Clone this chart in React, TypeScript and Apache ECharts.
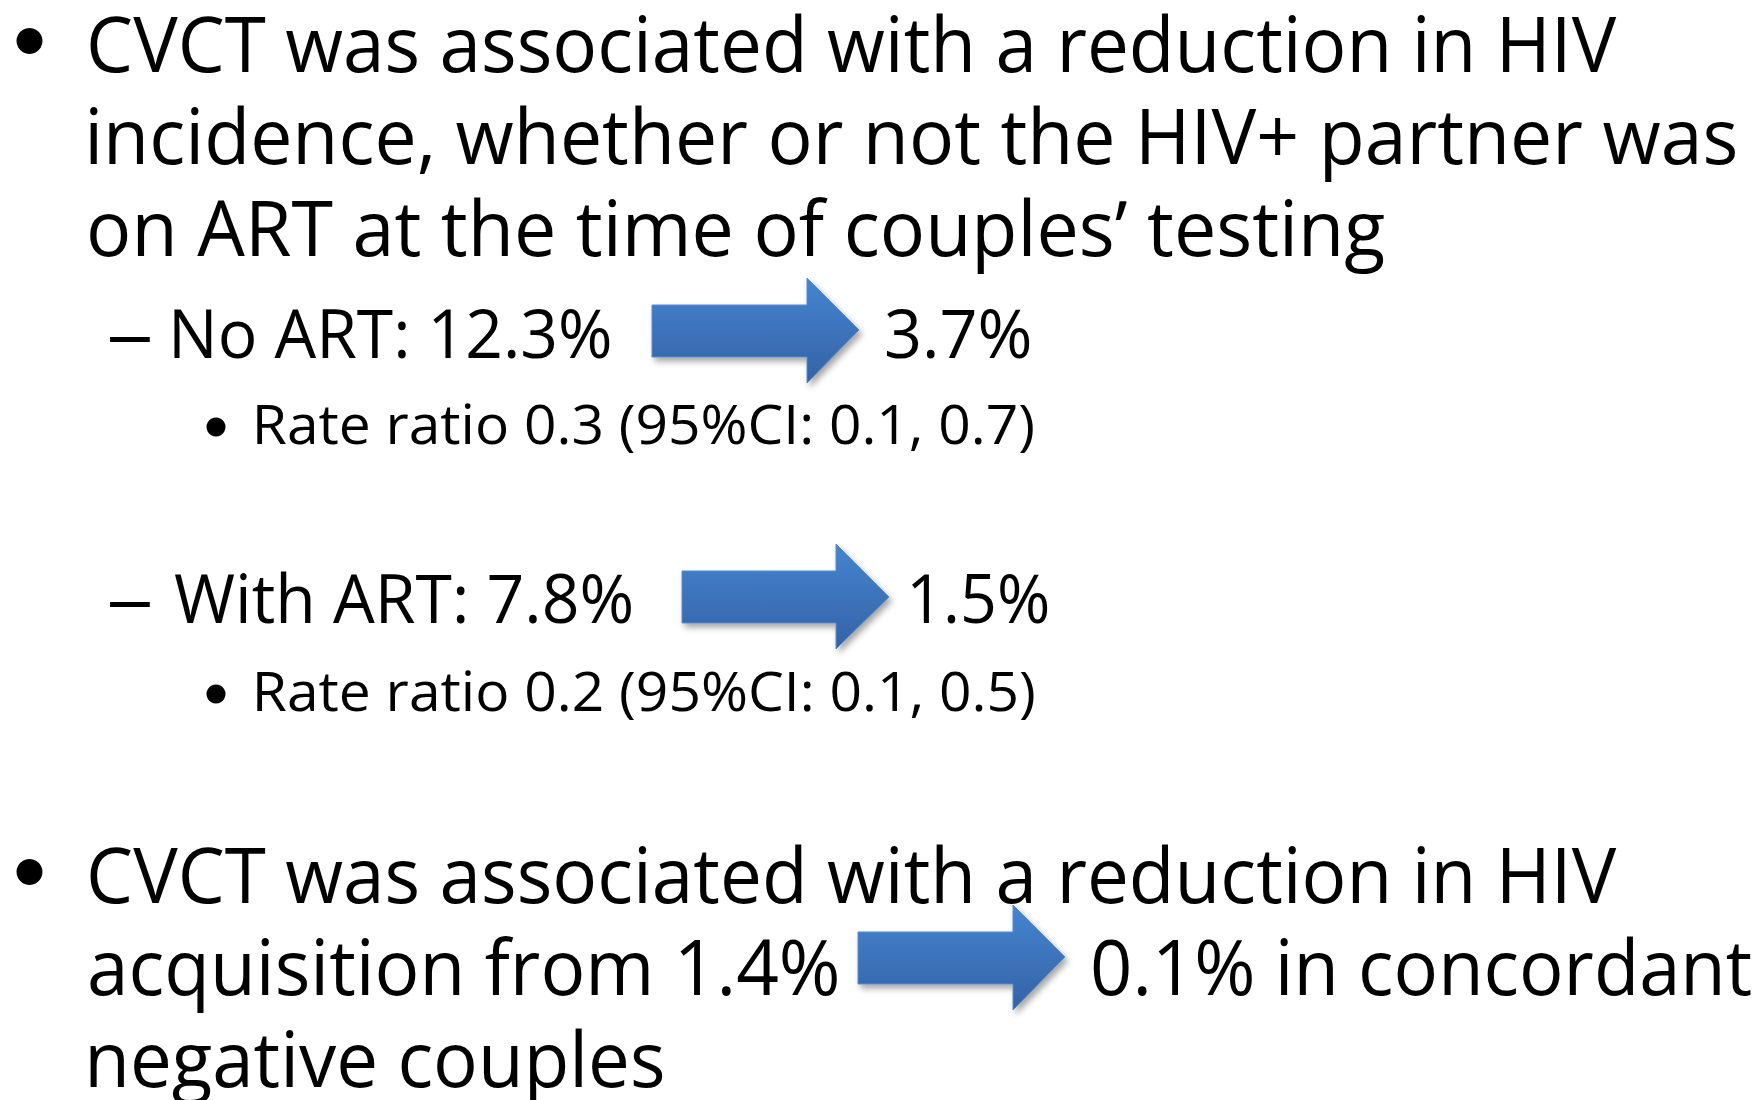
import React, { useEffect, useRef } from "react";
import * as echarts from "echarts";

// ---- content (text of the slide) ----
const bullet1Lines = [
  "CVCT was associated with a reduction in HIV",
  "incidence, whether or not the HIV+ partner was",
  "on ART at the time of couples’ testing",
];
const subItems = ["No ART: 12.3%", "With ART: 7.8%"];
const subResults = ["3.7%", "1.5%"];
const rateRatios = [
  "Rate ratio 0.3 (95%CI: 0.1, 0.7)",
  "Rate ratio 0.2 (95%CI: 0.1, 0.5)",
];
const bullet2Lines = [
  "CVCT was associated with a reduction in HIV",
  "acquisition from 1.4%",
  "negative couples",
];
const bullet2Result = "0.1% in concordant";

// ---- layout ----
const W = 1761;
const H = 1100;
const FONT_FAMILY = '"Open Sans", "Noto Sans", sans-serif';
const SIZE1 = 77;
const SIZE2 = 67;
const SIZE3 = 55;
const K_CENTRAL = 0.388;

const L1_LEFT = 90;
const L1_RIGHTS = [1617, 1735, 1384];
const L1_BASE = [72, 164, 256];
const SUB_BASE = [358, 623];
const SUB_LEFT = 174;
const SUB_RIGHTS = [610, 632];
const RES_LEFTS = [887, 912];
const RES_RIGHTS = [1030, 1048];
const DASH = [109, 150];
const RATE_BASE = [444, 711];
const RATE_LEFT = 257;
const RATE_RIGHTS = [1034, 1035];
const RATE_BULLET = { x: 216, dy: -17, r: 9.5 };
const B2_BASE = [903, 995, 1087];
const B2_RIGHTS = [1617, 837, 663];
const B2_RES = [1093, 1751];
const MAIN_BULLET = { x: 29.5, dy: -31, r: 13 };

// arrows: [shaftLeft, shaftTop, shaftBottom, headX, headTop, headBottom, tipX, tipY]
const ARROWS = [
  [652, 305, 357, 807, 278, 383, 859, 330],
  [682, 571, 623, 836, 544, 649, 889, 597],
  [858, 932, 984, 1013, 905, 1010, 1065, 957],
];

let ctx: CanvasRenderingContext2D | null = null;
function measure(text: string, fs: number) {
  if (!ctx) ctx = document.createElement("canvas").getContext("2d");
  ctx!.font = `${fs}px ${FONT_FAMILY}`;
  const m = ctx!.measureText(text);
  return { l: m.actualBoundingBoxLeft, r: m.actualBoundingBoxRight };
}

function fitText(text: string, fs: number, left: number, right: number, base: number) {
  const m = measure(text, fs);
  const ink = m.l + m.r;
  const s = (right - left) / ink;
  return {
    type: "text",
    x: left + s * m.l,
    y: base - K_CENTRAL * fs,
    scaleX: s,
    silent: true,
    style: {
      text,
      x: 0,
      y: 0,
      fill: "#000",
      font: `${fs}px ${FONT_FAMILY}`,
      align: "left",
      verticalAlign: "middle",
    },
  };
}

function dot(cx: number, cy: number, r: number) {
  return { type: "circle", shape: { cx, cy, r }, style: { fill: "#000" }, silent: true };
}

function arrow(a: number[]) {
  const [sl, st, sb, hx, ht, hb, tx, ty] = a;
  return {
    type: "polygon",
    silent: true,
    shape: {
      points: [
        [sl, st],
        [hx, st],
        [hx, ht],
        [tx, ty],
        [hx, hb],
        [hx, sb],
        [sl, sb],
      ],
    },
    style: {
      fill: {
        type: "linear",
        x: 0,
        y: 0,
        x2: 0,
        y2: 1,
        colorStops: [
          { offset: 0, color: "#4585D0" },
          { offset: 1, color: "#3462A6" },
        ],
      },
      stroke: "#5A8ACB",
      lineWidth: 1,
      shadowBlur: 6,
      shadowOffsetX: 3,
      shadowOffsetY: 4,
      shadowColor: "rgba(0,0,0,0.35)",
    },
  };
}

function buildGraphics() {
  const g: any[] = [];
  g.push({ type: "rect", shape: { x: 0, y: 0, width: W, height: H }, style: { fill: "#fff" }, silent: true });
  // first bullet
  g.push(dot(MAIN_BULLET.x, L1_BASE[0] + MAIN_BULLET.dy, MAIN_BULLET.r));
  bullet1Lines.forEach((t, i) => g.push(fitText(t, SIZE1, L1_LEFT, L1_RIGHTS[i], L1_BASE[i])));
  // sub items
  subItems.forEach((t, i) => {
    g.push(fitText("–", SIZE2, DASH[0], DASH[1], SUB_BASE[i]));
    g.push(fitText(t, SIZE2, SUB_LEFT, SUB_RIGHTS[i], SUB_BASE[i]));
    g.push(fitText(subResults[i], SIZE2, RES_LEFTS[i], RES_RIGHTS[i], SUB_BASE[i]));
    g.push(dot(RATE_BULLET.x, RATE_BASE[i] + RATE_BULLET.dy, RATE_BULLET.r));
    g.push(fitText(rateRatios[i], SIZE3, RATE_LEFT, RATE_RIGHTS[i], RATE_BASE[i]));
  });
  // second bullet
  g.push(dot(MAIN_BULLET.x, B2_BASE[0] + MAIN_BULLET.dy, MAIN_BULLET.r));
  bullet2Lines.forEach((t, i) => g.push(fitText(t, SIZE1, L1_LEFT, B2_RIGHTS[i], B2_BASE[i])));
  g.push(fitText(bullet2Result, SIZE1, B2_RES[0], B2_RES[1], B2_BASE[1]));
  ARROWS.forEach((a) => g.push(arrow(a)));
  return g;
}

export default function App() {
  const ref = useRef<HTMLDivElement>(null);
  useEffect(() => {
    document.body.style.margin = "0";
    const chart = echarts.init(ref.current!, null, { renderer: "svg" });
    chart.setOption({
      animation: false,
      backgroundColor: "#fff",
      graphic: { elements: buildGraphics() },
    });
    return () => chart.dispose();
  }, []);
  return <div ref={ref} style={{ width: W, height: H, background: "#fff" }} />;
}
